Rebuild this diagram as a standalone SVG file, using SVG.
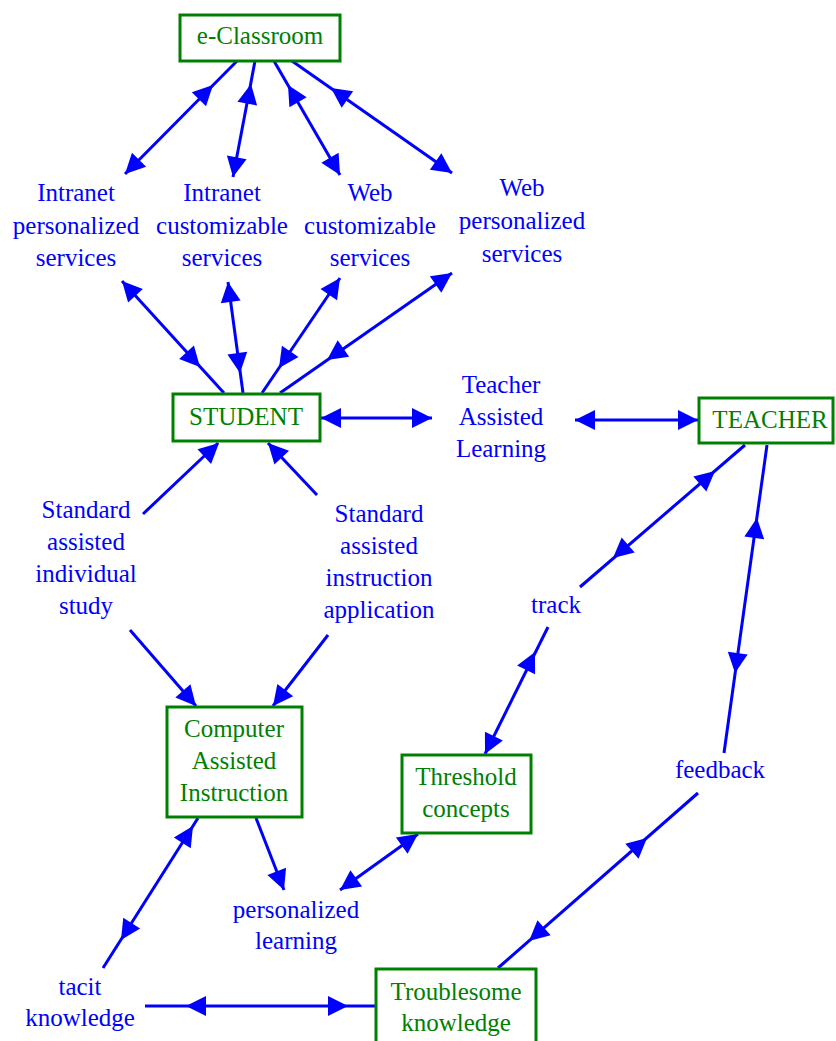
<svg xmlns="http://www.w3.org/2000/svg" xmlns:xlink="http://www.w3.org/1999/xlink" width="836" height="1041" viewBox="0 0 836 1041">
<style>
text{font-family:"Liberation Serif","Times New Roman",serif;font-size:25px;text-anchor:middle}
.box{fill:#fff;stroke:#008000;stroke-width:3}
.nt{fill:#008000}
.lt{fill:#0000ff}
.c line{stroke:#0000ff;stroke-width:3}
.c use{fill:#0000ff}
</style>
<defs>
<path id="ah" d="M0,0 L-20,-10 L-20,10 Z"/>
</defs>
<rect width="836" height="1041" fill="#fff"/>
<g id="connectors" class="c">
<line x1="237" y1="61" x2="125" y2="174"/>
<use href="#ah" transform="translate(125,174) rotate(134.7)"/>
<use href="#ah" transform="translate(213,85) rotate(-45.3)"/>
<line x1="255" y1="61" x2="233" y2="177"/>
<use href="#ah" transform="translate(233,177) rotate(100.7)"/>
<use href="#ah" transform="translate(251,84) rotate(-79.3)"/>
<line x1="274" y1="61" x2="340" y2="175"/>
<use href="#ah" transform="translate(340,175) rotate(59.9)"/>
<use href="#ah" transform="translate(288,85) rotate(-120.1)"/>
<line x1="292" y1="61" x2="452" y2="173"/>
<use href="#ah" transform="translate(452,173) rotate(35)"/>
<use href="#ah" transform="translate(331,88) rotate(-145)"/>
<line x1="224" y1="393" x2="122" y2="281"/>
<use href="#ah" transform="translate(122,281) rotate(-132.3)"/>
<use href="#ah" transform="translate(200,367) rotate(47.7)"/>
<line x1="243" y1="393" x2="228" y2="282"/>
<use href="#ah" transform="translate(228,282) rotate(-97.7)"/>
<use href="#ah" transform="translate(240,373) rotate(82.3)"/>
<line x1="262" y1="393" x2="340" y2="278"/>
<use href="#ah" transform="translate(340,278) rotate(-55.9)"/>
<use href="#ah" transform="translate(279,368) rotate(124.1)"/>
<line x1="280" y1="393" x2="452" y2="273"/>
<use href="#ah" transform="translate(452,273) rotate(-34.9)"/>
<use href="#ah" transform="translate(327,360) rotate(145.1)"/>
<line x1="320" y1="418" x2="432" y2="418"/>
<use href="#ah" transform="translate(321,418) rotate(180)"/>
<use href="#ah" transform="translate(432,418) rotate(0)"/>
<line x1="575" y1="420" x2="699" y2="420"/>
<use href="#ah" transform="translate(575,420) rotate(180)"/>
<use href="#ah" transform="translate(698,420) rotate(0)"/>
<line x1="143" y1="514" x2="218" y2="443"/>
<use href="#ah" transform="translate(219,443) rotate(-42.7)"/>
<line x1="317" y1="495" x2="268" y2="443"/>
<use href="#ah" transform="translate(268,443) rotate(-133.3)"/>
<line x1="130" y1="630" x2="196" y2="706"/>
<use href="#ah" transform="translate(196,706) rotate(49)"/>
<line x1="328" y1="635" x2="273" y2="706"/>
<use href="#ah" transform="translate(273,706) rotate(127.8)"/>
<line x1="198" y1="818" x2="103" y2="968"/>
<use href="#ah" transform="translate(193,826) rotate(-57.7)"/>
<use href="#ah" transform="translate(121,940) rotate(122.3)"/>
<line x1="256" y1="818" x2="284" y2="890"/>
<use href="#ah" transform="translate(284,890) rotate(68.7)"/>
<line x1="418" y1="834" x2="340" y2="890"/>
<use href="#ah" transform="translate(340,890) rotate(144.3)"/>
<use href="#ah" transform="translate(418,834) rotate(-35.7)"/>
<line x1="485" y1="754" x2="548" y2="627"/>
<use href="#ah" transform="translate(535,652) rotate(-63.6)"/>
<use href="#ah" transform="translate(485,754) rotate(116.4)"/>
<line x1="580" y1="587" x2="745" y2="445"/>
<use href="#ah" transform="translate(715,471) rotate(-40.7)"/>
<use href="#ah" transform="translate(613,558) rotate(139.3)"/>
<line x1="767" y1="445" x2="724" y2="753"/>
<use href="#ah" transform="translate(757,518) rotate(-82.1)"/>
<use href="#ah" transform="translate(735,673) rotate(97.9)"/>
<line x1="698" y1="793" x2="498" y2="968"/>
<use href="#ah" transform="translate(647,838) rotate(-41.2)"/>
<use href="#ah" transform="translate(529,941) rotate(138.8)"/>
<line x1="145" y1="1006" x2="376" y2="1006"/>
<use href="#ah" transform="translate(186,1006) rotate(180)"/>
<use href="#ah" transform="translate(348,1006) rotate(0)"/>
</g>
<g id="n-eclassroom"><rect class="box" x="180" y="15" width="160" height="46"/><text class="nt" x="260" y="44">e-Classroom</text></g>
<g id="n-student"><rect class="box" x="173" y="394" width="147" height="47"/><text class="nt" x="246" y="425">STUDENT</text></g>
<g id="n-teacher"><rect class="box" x="699" y="398" width="134" height="45"/><text class="nt" x="770" y="428">TEACHER</text></g>
<g id="n-cai"><rect class="box" x="167" y="707" width="135" height="110"/><text class="nt" x="234" y="737">Computer</text><text class="nt" x="234" y="769">Assisted</text><text class="nt" x="234" y="801">Instruction</text></g>
<g id="n-threshold"><rect class="box" x="402" y="755" width="129" height="78"/><text class="nt" x="466" y="785">Threshold</text><text class="nt" x="466" y="817">concepts</text></g>
<g id="n-troublesome"><rect class="box" x="376" y="969" width="160" height="85"/><text class="nt" x="456" y="1000">Troublesome</text><text class="nt" x="456" y="1031">knowledge</text></g>
<g id="l-intranet-pers"><text class="lt" x="76" y="201">Intranet</text><text class="lt" x="76" y="234">personalized</text><text class="lt" x="76" y="266">services</text></g>
<g id="l-intranet-cust"><text class="lt" x="222" y="201">Intranet</text><text class="lt" x="222" y="234">customizable</text><text class="lt" x="222" y="266">services</text></g>
<g id="l-web-cust"><text class="lt" x="370" y="201">Web</text><text class="lt" x="370" y="234">customizable</text><text class="lt" x="370" y="266">services</text></g>
<g id="l-web-pers"><text class="lt" x="522" y="196">Web</text><text class="lt" x="522" y="229">personalized</text><text class="lt" x="522" y="262">services</text></g>
<g id="l-tal"><text class="lt" x="501" y="393">Teacher</text><text class="lt" x="501" y="425">Assisted</text><text class="lt" x="501" y="457">Learning</text></g>
<g id="l-sais"><text class="lt" x="86" y="518">Standard</text><text class="lt" x="86" y="550">assisted</text><text class="lt" x="86" y="582">individual</text><text class="lt" x="86" y="614">study</text></g>
<g id="l-saia"><text class="lt" x="379" y="522">Standard</text><text class="lt" x="379" y="554">assisted</text><text class="lt" x="379" y="586">instruction</text><text class="lt" x="379" y="618">application</text></g>
<g id="l-track"><text class="lt" x="556" y="613">track</text></g>
<g id="l-feedback"><text class="lt" x="720" y="778">feedback</text></g>
<g id="l-perslearn"><text class="lt" x="296" y="918">personalized</text><text class="lt" x="296" y="949">learning</text></g>
<g id="l-tacit"><text class="lt" x="80" y="995">tacit</text><text class="lt" x="80" y="1026">knowledge</text></g>
</svg>
